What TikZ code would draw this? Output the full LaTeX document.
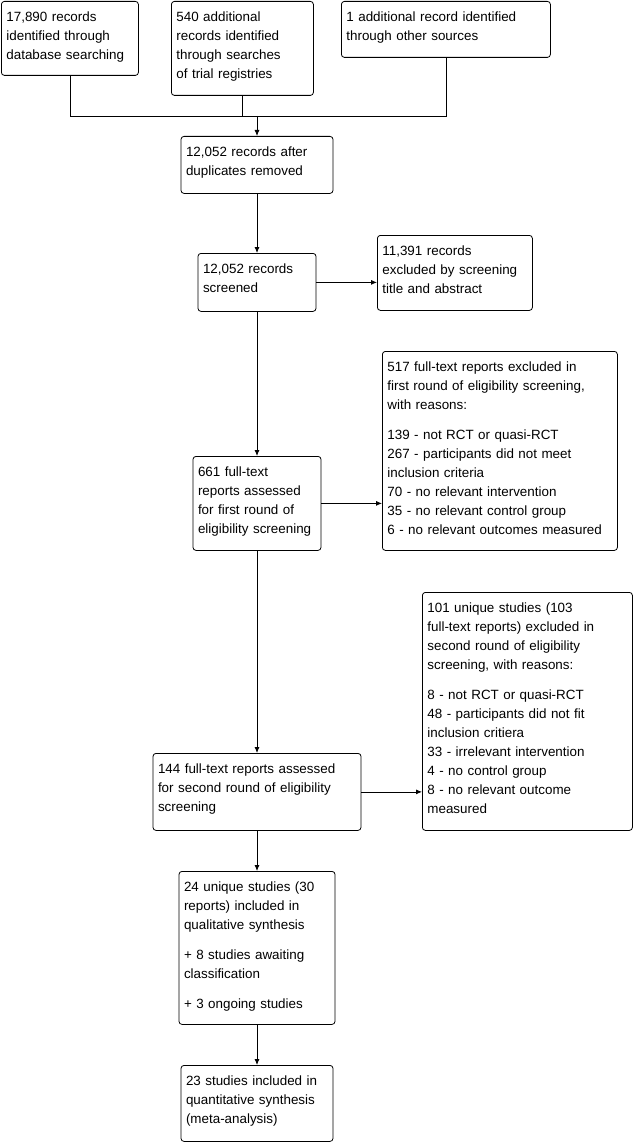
\documentclass[tikz,border=0pt]{standalone}
\usepackage{fontspec}
\setmainfont{Liberation Sans}
\usepackage{xcolor}
\definecolor{BoxBorder}{RGB}{0,0,0}
\definecolor{BoxFill}{RGB}{255,255,255}
\usepackage{tikz}
\usetikzlibrary{
  arrows.meta,
  positioning
}
\tikzset{
  % Generic flow box, text at the top left
  pbox/.style={
    rectangle, rounded corners=3pt,
    draw=BoxBorder, line width=0.8pt,
    fill=BoxFill,
    align=left, anchor=north west,
    font=\fontsize{13.4}{19}\selectfont,
    inner xsep=5pt, inner ysep=5pt,
    text height=15pt
  },
  % Main column variant
  pbox main/.style={pbox, anchor=north},
  % Connectors
  link/.style={line width=0.8pt, BoxBorder},
  arr/.style={-{Latex[length=6pt,width=5pt]}, line width=0.8pt, BoxBorder},
}

\begin{document}
\begin{tikzpicture}[x=1pt, y=-1pt]

  \useasboundingbox (0,0) rectangle (633,1142);

  %% Identification
  \node[pbox, text width=127pt, text depth=49pt] (dbsearch) at (1,1) {17,890 records\\identified through\\database searching};
  \node[pbox, text width=132pt, text depth=69pt] (registry) at (171,1) {540 additional\\records identified\\through searches\\of trial registries};
  \node[pbox, text width=199pt, text depth=31pt] (othersrc) at (341,1) {1 additional record identified\\through other sources};
  \coordinate (merge) at (257,116);

  %% Main column
  \node[pbox main, text width=142pt, text depth=32pt] (dedup) at (257,136) {12,052 records after\\duplicates removed};
  \node[pbox main, text width=108pt, text depth=33pt] (screened) at (257,253) {12,052 records\\screened};
  \node[pbox main, text width=118pt, text depth=69pt] (fulltexta) at (257,456) {661 full-text\\reports assessed\\for first round of\\eligibility screening};
  \node[pbox main, text width=198pt, text depth=52pt] (fulltextb) at (257,753) {144 full-text reports assessed\\for second round of eligibility\\screening};
  \node[pbox main, text width=146pt, text depth=128pt] (qualsyn) at (257,871) {24 unique studies (30\\reports) included in\\qualitative synthesis\\[11pt]+ 8 studies awaiting\\classification\\[11pt]+ 3 ongoing studies};
  \node[pbox main, text width=142pt, text depth=51pt] (quantsyn) at (257,1065) {23 studies included in\\quantitative synthesis\\(meta-analysis)};

  %% Exclusions
  \node[pbox, text width=145pt, text depth=50pt] (exclscr) at (377,235) {11,391 records\\excluded by screening\\title and abstract};
  \node[pbox, text width=225pt, text depth=174pt] (exclfirst) at (382,351) {517 full-text reports excluded in\\first round of eligibility screening,\\with reasons:\\[11pt]139 - not RCT or quasi-RCT\\267 - participants did not meet\\inclusion criteria\\70 - no relevant intervention\\35 - no relevant control group\\6 - no relevant outcomes measured};
  \node[pbox, text width=200pt, text depth=213pt] (exclsecond) at (422,592) {101 unique studies (103\\full-text reports) excluded in\\second round of eligibility\\screening, with reasons:\\[11pt]8 - not RCT or quasi-RCT\\48 - participants did not fit\\inclusion critiera\\33 - irrelevant intervention\\4 - no control group\\8 - no relevant outcome\\measured};

  %% Flow
  \draw[link] (dbsearch.south) |- (merge);
  \draw[link] (othersrc.south) |- (merge);
  \draw[link] (registry.south) -- (registry.south |- merge);
  \draw[arr] (merge) -- (dedup);
  \draw[arr] (dedup) -- (screened);
  \draw[arr] (screened) -- (fulltexta);
  \draw[arr] (fulltexta) -- (fulltextb);
  \draw[arr] (fulltextb) -- (qualsyn);
  \draw[arr] (qualsyn) -- (quantsyn);

  %% Side exits
  \draw[arr] (screened.east) -- (screened.east -| exclscr.west);
  \draw[arr] (fulltexta.east) -- (fulltexta.east -| exclfirst.west);
  \draw[arr] (fulltextb.east) -- (fulltextb.east -| exclsecond.west);

\end{tikzpicture}
\end{document}
